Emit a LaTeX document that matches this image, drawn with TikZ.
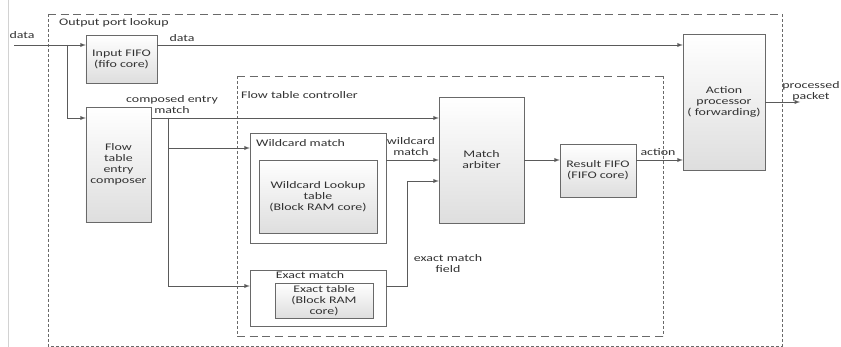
\documentclass[tikz,border=0pt]{standalone}
\usepackage{fontspec}
\setmainfont{Carlito}[FakeStretch=1.38]
\usepackage{xcolor}
\usepackage{tikz}
\usetikzlibrary{positioning, arrows}
\definecolor{edge}{RGB}{90, 90, 90}
\definecolor{boxline}{RGB}{105, 105, 105}
\definecolor{boxfill}{RGB}{222, 222, 222}
\definecolor{ink}{RGB}{50, 50, 50}

\begin{document}
\begin{tikzpicture}[x=0.03cm, y=-0.03cm,
        font=\fontsize{8.6}{9.4}\selectfont, text=ink,
        block/.style={rectangle, draw=boxline, top color=white, bottom color=boxfill, align=center, inner sep=1pt},
        frame/.style={rectangle, draw=boxline, fill=white},
        wire/.style={draw=edge, -latex, line width=0.6pt},
        hdash/.style={draw=boxline, line width=0.6pt, dash pattern=on 0.24cm off 0.14cm},
        vdash/.style={draw=boxline, line width=0.6pt, dash pattern=on 0.09cm off 0.06cm}
    ]
    \useasboundingbox (0,0) rectangle (841,347);
    \draw[gray!35] (8,0) -- (8,347);

    % dashed regions
    \draw[hdash] (48,14) -- (782,14);
    \draw[vdash] (48,14) -- (48,346) -- (782,346) -- (782,14);
    \draw[hdash] (237,76) -- (663,76);
    \draw[hdash] (237,336) -- (663,336);
    \draw[vdash] (237,76) -- (237,336);
    \draw[vdash] (663,76) -- (663,336);
    \node[anchor=west] (portlbl) at (55,23) {Output port lookup};
    \node[anchor=west] (ctrllbl) at (237,95) {Flow table controller};

    % blocks
    \node (infifo) [block, minimum width=2.13cm, minimum height=1.44cm] at (121.5,59) {Input FIFO\\(fifo core)};
    \node (composer) [block, minimum width=1.95cm, minimum height=3.45cm] at (118.5,164.5) {Flow\\table\\entry\\composer};
    \node (wildbox) [frame, minimum width=4.08cm, minimum height=3.3cm] at (318,188) {};
    \node (wildlut) [block, minimum width=3.54cm, minimum height=2.19cm] at (318,196.5) {Wildcard Lookup\\table\\(Block RAM core)};
    \node (exactbox) [frame, minimum width=4.08cm, minimum height=1.68cm] at (318,298) {};
    \node (exacttab) [block, minimum width=2.94cm, minimum height=1.05cm] at (324,300.5) {Exact table\\(Block RAM\\core)};
    \node (arbiter) [block, minimum width=2.55cm, minimum height=3.78cm] at (481.5,160) {Match\\arbiter};
    \node (resfifo) [block, minimum width=2.28cm, minimum height=1.59cm] at (598,170.5) {Result FIFO\\(FIFO core)};
    \node (action) [block, minimum width=2.46cm, minimum height=4.08cm] at (724,102) {Action\\processor\\( forwarding)};
    \node[anchor=west] (wildlbl) at (252,143) {Wildcard match};
    \node (exactlbl) at (310,275) {Exact match};

    % connectors
    \coordinate (datain) at (14,45);
    \coordinate (split1) at (67,45);
    \coordinate (cy) at (0,118);
    \coordinate (split2) at (168,118);
    \coordinate (wy) at (0,148);
    \coordinate (ey) at (0,286);
    \coordinate (my) at (0,181);
    \coordinate (pout) at (800,102);

    \draw[wire] (datain) -- (infifo.west |- datain);
    \draw[wire] (split1) |- (composer.west |- cy);
    \draw[wire] (infifo.east |- datain) -- (action.west |- datain);
    \draw[wire] (composer.east |- cy) -- (arbiter.west |- cy);
    \draw[wire] (split2) |- (wildbox.west |- wy);
    \draw[wire] (split2) |- (exactbox.west |- ey);
    \draw[wire] (wildbox.east |- arbiter.west) -- (arbiter.west);
    \draw[wire] (exactbox.east |- ey) -- ++(21,0) |- (arbiter.west |- my);
    \draw[wire] (arbiter.east) -- (resfifo.west |- arbiter.east);
    \draw[wire] (resfifo.east |- arbiter.east) -- (action.west |- arbiter.east);
    \draw[wire] (action.east) -- (pout);

    % labels
    \node (datalbl1) at (22,35) {data};
    \node (datalbl2) at (182,38) {data};
    \node[align=center] (cmplbl) at (172,105) {composed entry\\match};
    \node[align=center] (wildout) at (411,147) {wildcard\\match};
    \node[align=center] (exactout) at (448,264) {exact match\\field};
    \node (actlbl) at (658,152) {action};
    \node[align=center] (outlbl) at (811,91) {processed\\packet};
\end{tikzpicture}
\end{document}
